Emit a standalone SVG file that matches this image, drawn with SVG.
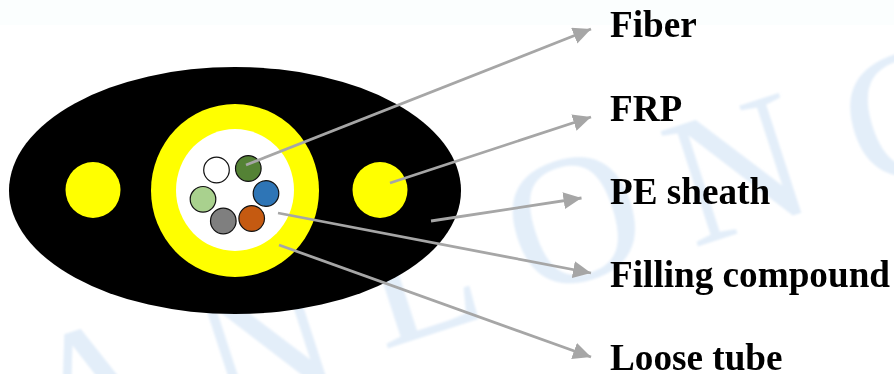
<svg xmlns="http://www.w3.org/2000/svg" width="894" height="374" viewBox="0 0 894 374">
<style>
.wm{font-family:"Liberation Serif",serif;font-size:185px;fill:#e3eef9}
.lbl{font-family:"Liberation Serif",serif;font-weight:bold;font-size:37.200px;fill:#000}
.fib{stroke:#111;stroke-width:1.2}
.con{stroke:#a6a6a6;stroke-width:2.8;fill:none;marker-end:url(#ah)}
</style>
<defs>
<marker id="ah" markerUnits="userSpaceOnUse" markerWidth="20" markerHeight="18" refX="18" refY="8.500" orient="auto"><path d="M0 0L18 8.500L0 17Z" fill="#a6a6a6"/></marker>
<filter id="soft" x="-5%" y="-5%" width="110%" height="110%"><feGaussianBlur stdDeviation="1.100"/></filter>
</defs>
<rect width="894" height="374" fill="#fff"/>
<rect width="894" height="25" fill="#fbfefe"/>
<g id="watermark" filter="url(#soft)">
<text class="wm" transform="translate(48 468) rotate(-18)">A</text>
<text class="wm" transform="translate(221 422) rotate(-18)">N</text>
<text class="wm" transform="translate(383 350) rotate(-18)">L</text>
<text class="wm" transform="translate(529 298) rotate(-18)">O</text>
<text class="wm" transform="translate(693 248) rotate(-18)">N</text>
<text class="wm" transform="translate(866 192) rotate(-18)">G</text>
</g>
<g id="cable">
<ellipse cx="235" cy="190.5" rx="226" ry="123.5" fill="#000"/>
<ellipse cx="235" cy="190.5" rx="84" ry="86.5" fill="#ff0"/>
<ellipse cx="235" cy="190" rx="59" ry="61" fill="#fff"/>
</g>
<g id="frp-left"><ellipse cx="93" cy="190" rx="27.5" ry="28" fill="#ff0"/></g>
<g id="frp-right"><ellipse cx="380" cy="190" rx="27.5" ry="28" fill="#ff0"/></g>
<g id="fibers">
<circle class="fib" cx="216.500" cy="170" r="12.800" fill="#fff"/>
<circle class="fib" cx="248.300" cy="168.500" r="12.800" fill="#548235"/>
<circle class="fib" cx="266" cy="193.500" r="12.800" fill="#2e75b6"/>
<circle class="fib" cx="251.700" cy="218.500" r="12.800" fill="#c55a11"/>
<circle class="fib" cx="223.300" cy="221" r="12.800" fill="#7f7f7f"/>
<circle class="fib" cx="203" cy="199.300" r="12.800" fill="#a9d18e"/>
</g>
<g id="connectors">
<line class="con" x1="246" y1="165" x2="591" y2="29"/>
<line class="con" x1="390" y1="183" x2="591" y2="117"/>
<line class="con" x1="431" y1="221" x2="581.500" y2="198"/>
<line class="con" x1="278" y1="213" x2="591" y2="273"/>
<line class="con" x1="279" y1="245" x2="591" y2="357"/>
</g>
<g id="labels">
<text class="lbl" x="610" y="37">Fiber</text>
<text class="lbl" x="610" y="121">FRP</text>
<text class="lbl" x="610" y="204">PE sheath</text>
<text class="lbl" x="610" y="286.500">Filling compound</text>
<text class="lbl" x="610" y="369.500">Loose tube</text>
</g>
</svg>
